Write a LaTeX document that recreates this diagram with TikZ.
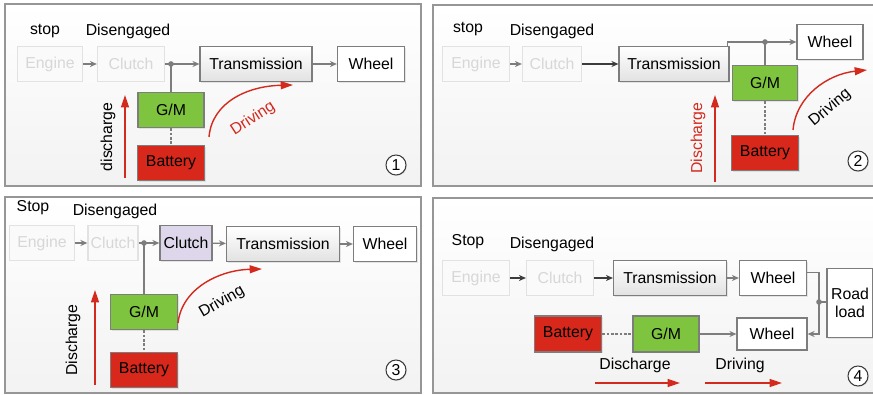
\documentclass[tikz,border=0pt]{standalone}
\usepackage{fontspec}
\setmainfont{Liberation Sans}
\usepackage{tikz}
\usetikzlibrary{arrows.meta, positioning, calc, shadows}
\definecolor{mygray}{RGB}{125,125,125}
\definecolor{mydark}{RGB}{60,60,60}
\definecolor{myred}{RGB}{212,42,30}
\definecolor{mygreen}{RGB}{126,196,62}
\definecolor{mybat}{RGB}{216,40,28}
\definecolor{mypurple}{RGB}{222,215,235}
\definecolor{hdrgray}{RGB}{226,226,226}
\definecolor{fadeline}{RGB}{226,226,226}
\definecolor{fadetext}{RGB}{215,215,215}
\definecolor{panelline}{RGB}{150,150,150}
\newcommand{\boxfont}{\fontsize{9}{10.5}\selectfont}
\tikzset{
  panel/.style={draw=panelline, line width=0.8pt, top color=white, bottom color=black!5},
  block/.style={rectangle, draw=mygray, top color=white, bottom color=hdrgray,
    minimum height=0.7cm, font=\boxfont, line width=0.7pt, inner sep=1pt,
    drop shadow={opacity=0.18, shadow xshift=0.6pt, shadow yshift=-0.6pt}},
  whiteblock/.style={block, top color=white, bottom color=white},
  fadeblock/.style={rectangle, draw=fadeline, fill=black!2, text=fadetext,
    minimum height=0.7cm, font=\boxfont, line width=0.7pt, inner sep=1pt},
  greenblock/.style={block, top color=mygreen, bottom color=mygreen},
  redblock/.style={block, top color=mybat, bottom color=mybat},
  purpleblock/.style={block, top color=mypurple, bottom color=mypurple},
  label/.style={font=\boxfont},
  num/.style={circle, draw=mydark, fill=white, minimum size=0.4cm, inner sep=0pt,
    font=\boxfont, line width=0.6pt,
    drop shadow={opacity=0.2, shadow xshift=0.5pt, shadow yshift=-0.5pt}},
  arrow/.style={-{Stealth[length=4pt,width=3.5pt]}, line width=0.7pt, color=mygray},
  darkarrow/.style={-{Stealth[length=4pt,width=3.5pt]}, line width=0.8pt, color=mydark},
  line/.style={line width=0.7pt, color=mygray},
  dashline/.style={line width=0.7pt, color=mygray, dash pattern=on 1.5pt off 1pt},
  dot/.style={circle, fill=mygray, inner sep=0pt, minimum size=3.2pt},
  redarrow/.style={-{Triangle[length=7pt,width=4.5pt]}, line width=0.8pt, color=myred}
}

\begin{document}
\begin{tikzpicture}[x=0.02cm, y=-0.02cm]
  \useasboundingbox (0,0) rectangle (873,395);
  \clip (0,0) rectangle (873,395);

  % Frames
  \draw[panel] (5,4) rectangle (421,186);
  \draw[panel] (433,5) rectangle (880,186);
  \draw[panel] (5,197) rectangle (421,393);
  \draw[panel] (433,198) rectangle (880,393);

  % ---- (1) ----
  \node[label] (stopA) at (45,31) {stop};
  \node[label] (disA) at (128,31) {Disengaged};
  \node[fadeblock, minimum width=1.3cm] (engA) at (50,64) {Engine};
  \node[fadeblock, minimum width=1.34cm] (cluA) at (131,64) {Clutch};
  \node[block, minimum width=2.24cm] (traA) at (256,64) {Transmission};
  \node[whiteblock, minimum width=1.34cm] (wheA) at (371,64) {Wheel};
  \node[greenblock, minimum width=1.32cm] (gmA) at (171,110) {G/M};
  \node[redblock, minimum width=1.34cm] (batA) at (171,163) {Battery};
  \node[num] (numA) at (396,165) {1};
  \coordinate (dotA) at (171,64);

  \draw[arrow] (engA) -- (cluA);
  \draw[arrow] (cluA) -- (traA);
  \draw[arrow] (traA) -- (wheA);
  \draw[line] (dotA) -- (gmA);
  \draw[dashline] (gmA) -- (batA);
  \node[dot] at (dotA) {};
  \draw[redarrow] (125,178) -- (125,95);
  \node[label, rotate=90] (dchA) at (108,137) {discharge};
  \draw[redarrow] (209,137) .. controls (212,102) and (248,86) .. (293,85);
  \node[label, text=myred, rotate=33] (drvA) at (253,119) {Driving};

  % ---- (2) ----
  \node[label] (stopB) at (468,29) {stop};
  \node[label] (disB) at (552,31) {Disengaged};
  \node[fadeblock, minimum width=1.34cm] (engB) at (476,64) {Engine};
  \node[fadeblock, minimum width=1.18cm] (cluB) at (552,64) {Clutch};
  \node[block, minimum width=2.2cm] (traB) at (674,64) {Transmission};
  \node[whiteblock, minimum width=1.32cm] (wheB) at (830,42) {Wheel};
  \node[greenblock, minimum width=1.3cm] (gmB) at (765,83) {G/M};
  \node[redblock, minimum width=1.34cm] (batB) at (765,153) {Battery};
  \node[num] (numB) at (858,161) {2};
  \coordinate (dotB) at (765,42);

  \draw[arrow] (engB) -- (cluB);
  \draw[darkarrow] (cluB) -- (traB);
  \draw[arrow] ([xshift=-1pt]traB.north east) |- (wheB);
  \draw[line] (dotB) -- (gmB);
  \draw[dashline] (gmB) -- (batB);
  \node[dot] at (dotB) {};
  \draw[redarrow] (715,182) -- (715,95);
  \node[label, text=myred, rotate=90] (dchB) at (698,138) {Discharge};
  \draw[redarrow] (793,130) .. controls (796,96) and (828,74) .. (867,70);
  \node[label, rotate=40] (drvB) at (830,108) {Driving};

  % ---- (3) ----
  \node[label] (stopC) at (33,208) {Stop};
  \node[label] (disC) at (115,211) {Disengaged};
  \node[fadeblock, minimum width=1.3cm] (engC) at (42,243) {Engine};
  \node[fadeblock, minimum width=1.0cm] (cluC) at (113,243) {Clutch};
  \node[purpleblock, minimum width=1.04cm] (clu2C) at (186,243) {Clutch};
  \node[block, minimum width=2.26cm] (traC) at (283,244) {Transmission};
  \node[whiteblock, minimum width=1.26cm] (wheC) at (385,244) {Wheel};
  \node[greenblock, minimum width=1.34cm] (gmC) at (144,312) {G/M};
  \node[redblock, minimum width=1.34cm] (batC) at (144,370) {Battery};
  \node[num] (numC) at (396,370) {3};
  \coordinate (dotC) at (144,243);

  \draw[arrow] (engC) -- (cluC);
  \draw[arrow] (cluC) -- (clu2C);
  \draw[arrow] (clu2C) -- (traC);
  \draw[arrow] (traC) -- (wheC);
  \draw[line] (dotC) -- (gmC);
  \draw[dashline] (gmC) -- (batC);
  \node[dot] at (dotC) {};
  \draw[redarrow] (95,385) -- (95,290);
  \node[label, rotate=90] (dchC) at (73,340) {Discharge};
  \draw[redarrow] (178,323) .. controls (182,288) and (220,270) .. (262,269);
  \node[label, rotate=30] (drvC) at (222,302) {Driving};

  % ---- (4) ----
  \node[label] (stopD) at (468,242) {Stop};
  \node[label] (disD) at (552,244) {Disengaged};
  \node[fadeblock, minimum width=1.34cm] (engD) at (476,278) {Engine};
  \node[fadeblock, minimum width=1.34cm] (cluD) at (560,278) {Clutch};
  \node[block, minimum width=2.26cm] (traD) at (670,278) {Transmission};
  \node[whiteblock, minimum width=1.34cm] (whe1D) at (773,278) {Wheel};
  \node[whiteblock, minimum width=0.92cm, minimum height=1.38cm, align=center] (roadD) at (850,303) {Road\\load};
  \node[redblock, minimum width=1.34cm, minimum height=0.72cm] (batD) at (568,334) {Battery};
  \node[greenblock, minimum width=1.32cm, minimum height=0.72cm] (gmD) at (666,334) {G/M};
  \node[whiteblock, minimum width=1.4cm, minimum height=0.64cm] (whe2D) at (772,334) {Wheel};
  \node[num] (numD) at (858,376) {4};
  \coordinate (busD) at (819,302);

  \draw[darkarrow] (engD) -- (cluD);
  \draw[darkarrow] (cluD) -- (traD);
  \draw[arrow] (traD) -- (whe1D);
  \draw[dashline] (batD) -- (gmD);
  \draw[arrow] (gmD) -- (whe2D);
  \draw[arrow] ([yshift=3pt]whe1D.east) -| (whe2D.east -| busD) -- (whe2D.east);
  \draw[line] (busD) -- (roadD.west |- busD);
  \node[dot] at (busD) {};
  \node[label] (dchD) at (635,365) {Discharge};
  \draw[redarrow] (595,383) -- (680,383);
  \node[label] (drvD) at (740,365) {Driving};
  \draw[redarrow] (705,383) -- (782,383);
\end{tikzpicture}
\end{document}
